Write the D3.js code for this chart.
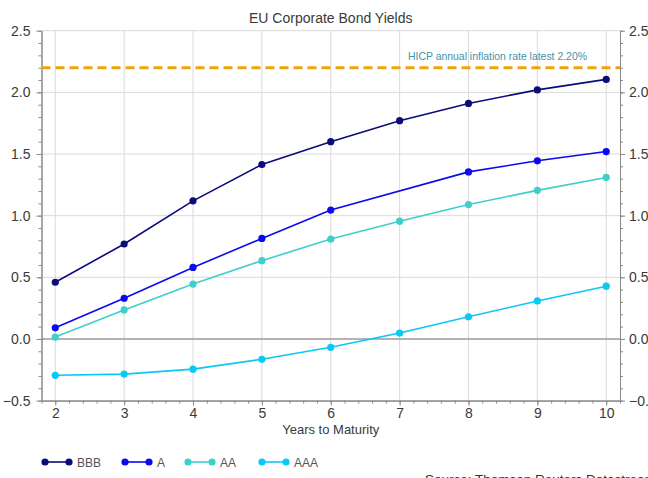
<!DOCTYPE html>
<html>
<head>
<meta charset="utf-8">
<script src="https://cdn.jsdelivr.net/npm/d3@7"></script>
<style>
  html, body { margin: 0; padding: 0; background: #fff; }
  svg { display: block; font-family: "Liberation Sans", Arial, sans-serif; }
</style>
</head>
<body>
<svg id="chart" width="648" height="478"></svg>
<script>
// ---- data ----
const years = [2, 3, 4, 5, 6, 7, 8, 9, 10];
const bbb = [0.46, 0.77, 1.12, 1.415, 1.60, 1.77, 1.91, 2.02, 2.105];
const a   = [0.09, 0.33, 0.58, 0.815, 1.045, null, 1.355, 1.445, 1.52];
const aa  = [0.015, 0.235, 0.445, 0.635, 0.81, 0.955, 1.09, 1.205, 1.31];
const aaa = [-0.295, -0.285, -0.245, -0.165, -0.068, 0.048, 0.18, 0.308, 0.428];
const seriesNames = ["BBB", "A", "AA", "AAA"];
const seriesColors = ["#0b0b7a", "#0a0aee", "#3ecfcb", "#08c8f4"];
const yTicks = [-0.5, 0.0, 0.5, 1.0, 1.5, 2.0, 2.5];
const xTicks = [2, 3, 4, 5, 6, 7, 8, 9, 10];
const inflation = 2.2;
const inflationLabel = "HICP annual inflation rate latest 2.20%";
const titleText = "EU Corporate Bond Yields";
const xTitle = "Years to Maturity";
const sourceText = "Source: Thomson Reuters Datastream";

// ---- layout ----
const svg = d3.select("#chart");
const L = 41.5, R = 620, T = 30.7, B = 400.6;
const x = d3.scaleLinear().domain([1.8, 10.2]).range([L, R]);
const y = d3.scaleLinear().domain([-0.5, 2.5]).range([B, T]);
const axisColor = "#8a8a8a";
const textColor = "#3a3a3a";

// title
svg.append("text").attr("x", (L + R) / 2).attr("y", 23)
  .attr("text-anchor", "middle").attr("font-size", 14).attr("fill", textColor)
  .text(titleText);

// gridlines
const grid = svg.append("g");
grid.selectAll("line.v").data(xTicks).join("line")
  .attr("x1", d => x(d)).attr("x2", d => x(d)).attr("y1", T).attr("y2", B)
  .attr("stroke", "#dadada").attr("stroke-width", 1);
grid.selectAll("line.h").data(yTicks.filter(d => d !== 0)).join("line")
  .attr("x1", L).attr("x2", R).attr("y1", d => y(d)).attr("y2", d => y(d))
  .attr("stroke", "#dadada").attr("stroke-width", 1);
// zero line
svg.append("line").attr("x1", L).attr("x2", R).attr("y1", y(0)).attr("y2", y(0))
  .attr("stroke", "#9a9a9a").attr("stroke-width", 1.5);

// axes
function styleAxis(g) {
  g.select(".domain").attr("stroke", axisColor);
  g.selectAll(".tick line").attr("stroke", axisColor);
  g.selectAll(".tick text").attr("fill", textColor).attr("font-size", 14)
    .attr("font-family", "Liberation Sans, Arial, sans-serif");
}
const minorY = d3.range(-0.5, 2.5001, 0.1);
const minorX = d3.range(1.8, 10.2001, 0.2);

// minor ticks
const yl = svg.append("g").attr("transform", `translate(${L},0)`)
  .call(d3.axisLeft(y).tickValues(minorY).tickSize(3).tickFormat("").tickSizeOuter(0));
styleAxis(yl);
const yr = svg.append("g").attr("transform", `translate(${R},0)`)
  .call(d3.axisRight(y).tickValues(minorY).tickSize(3).tickFormat("").tickSizeOuter(0));
styleAxis(yr);
const xm = svg.append("g").attr("transform", `translate(0,${B})`)
  .call(d3.axisBottom(x).tickValues(minorX).tickSize(3).tickFormat("").tickSizeOuter(0));
styleAxis(xm);

// major ticks + labels
const yL = svg.append("g").attr("transform", `translate(${L},0)`)
  .call(d3.axisLeft(y).tickValues(yTicks).tickSize(5).tickPadding(6).tickFormat(d3.format(".1f")).tickSizeOuter(0));
styleAxis(yL);
const yR = svg.append("g").attr("transform", `translate(${R},0)`)
  .call(d3.axisRight(y).tickValues(yTicks).tickSize(5).tickPadding(4).tickFormat(d3.format(".1f")).tickSizeOuter(0));
styleAxis(yR);
const xA = svg.append("g").attr("transform", `translate(0,${B})`)
  .call(d3.axisBottom(x).tickValues(xTicks).tickSize(5).tickPadding(2).tickFormat(d3.format("d")).tickSizeOuter(0));
styleAxis(xA);

svg.append("text").attr("x", (L + R) / 2).attr("y", 434)
  .attr("text-anchor", "middle").attr("font-size", 13).attr("fill", textColor)
  .text(xTitle);

// inflation line
svg.append("line").attr("x1", L).attr("x2", R)
  .attr("y1", y(inflation)).attr("y2", y(inflation))
  .attr("stroke", "#f2a20c").attr("stroke-width", 3).attr("stroke-dasharray", "9,5");
svg.append("text").attr("x", 587).attr("y", 60)
  .attr("text-anchor", "end").attr("font-size", 11.5).attr("fill", "#4592a6")
  .attr("textLength", 179).attr("lengthAdjust", "spacingAndGlyphs")
  .text(inflationLabel);

// series
const allSeries = [bbb, a, aa, aaa];
const lineGen = d3.line().x(d => x(d.x)).y(d => y(d.v));
allSeries.forEach((vals, i) => {
  const pts = years.map((yr, j) => ({ x: yr, v: vals[j] })).filter(d => d.v !== null);
  const g = svg.append("g");
  g.append("path").datum(pts).attr("d", lineGen)
    .attr("fill", "none").attr("stroke", seriesColors[i]).attr("stroke-width", 1.6);
  g.selectAll("circle").data(pts).join("circle")
    .attr("cx", d => x(d.x)).attr("cy", d => y(d.v)).attr("r", 3.6)
    .attr("fill", seriesColors[i]);
});

// legend
const legendX = [45, 125, 188, 262];
const legend = svg.append("g");
seriesNames.forEach((name, i) => {
  const lx = legendX[i], ly = 462;
  legend.append("line").attr("x1", lx).attr("x2", lx + 24).attr("y1", ly).attr("y2", ly)
    .attr("stroke", seriesColors[i]).attr("stroke-width", 1.6);
  legend.append("circle").attr("cx", lx).attr("cy", ly).attr("r", 3.6).attr("fill", seriesColors[i]);
  legend.append("circle").attr("cx", lx + 24).attr("cy", ly).attr("r", 3.6).attr("fill", seriesColors[i]);
  legend.append("text").attr("x", lx + 32).attr("y", ly + 4.5)
    .attr("font-size", 12).attr("fill", "#555").text(name);
});

// source
svg.append("text").attr("x", 425).attr("y", 484)
  .attr("font-size", 13.5).attr("fill", "#333").text(sourceText);
</script>
</body>
</html>
